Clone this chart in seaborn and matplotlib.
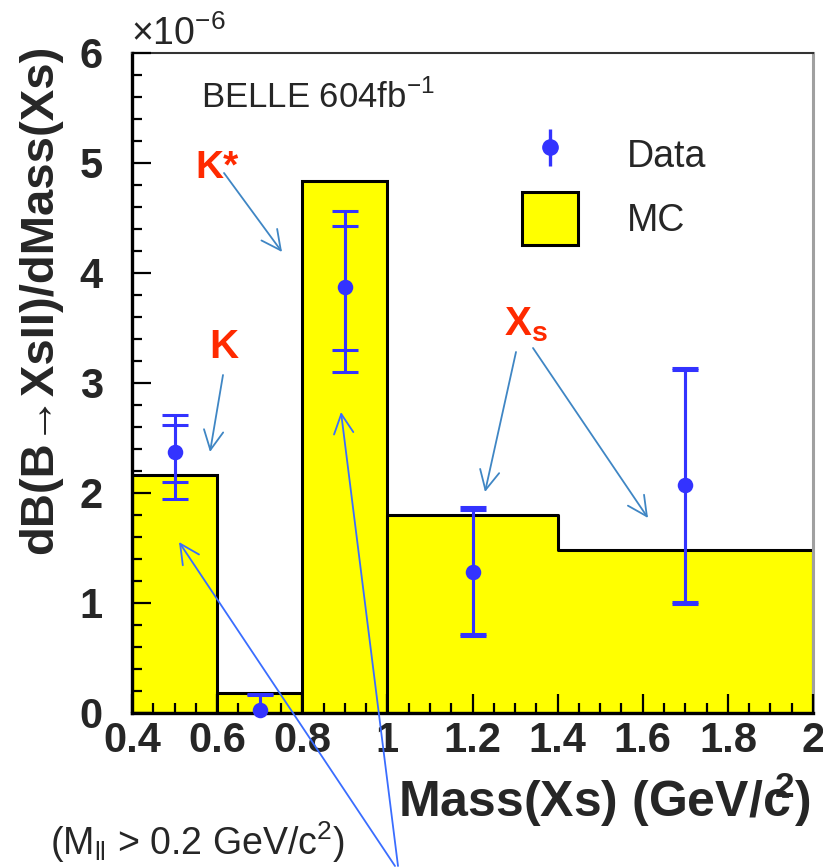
import numpy as np
import pandas as pd
import matplotlib
matplotlib.use("Agg")
import matplotlib.pyplot as plt
import seaborn as sns
from matplotlib.ticker import MultipleLocator, FixedLocator
from matplotlib.lines import Line2D
from matplotlib.collections import LineCollection
from matplotlib.container import ErrorbarContainer
from matplotlib.patches import Patch

# ---------------- data ----------------
mc_edges_low = [0.4, 0.6, 0.8, 1.0]
mc_centers_low = [0.5, 0.7, 0.9]
mc_heights_low = [2.16, 0.18, 4.84]

mc_edges_high = [1.0, 1.4, 2.0]
mc_centers_high = [1.2, 1.7]
mc_heights_high = [1.80, 1.48]

data_x = [0.5, 0.7, 0.9, 1.2, 1.7]
data_y = [2.37, 0.03, 3.87, 1.28, 2.07]
stat_lo = [2.10, -0.11, 3.30, 0.72, 1.01]
stat_hi = [2.62, 0.16, 4.43, 1.85, 3.12]
tot_lo = [1.95, -0.13, 3.10, 0.70, 0.99]
tot_hi = [2.71, 0.17, 4.56, 1.87, 3.14]

x_ticks = [0.4, 0.6, 0.8, 1.0, 1.2, 1.4, 1.6, 1.8, 2.0]
x_tick_labels = ["0.4", "0.6", "0.8", "1", "1.2", "1.4", "1.6", "1.8", "2"]
y_ticks = [0, 1, 2, 3, 4, 5, 6]
y_tick_labels = ["0", "1", "2", "3", "4", "5", "6"]

# ---------------- style ----------------
sns.set_style("white")
plt.rcParams['font.family'] = ['Liberation Sans', 'DejaVu Sans']
plt.rcParams['mathtext.fontset'] = 'custom'
plt.rcParams['mathtext.rm'] = 'Liberation Sans'
plt.rcParams['mathtext.bf'] = 'Liberation Sans:bold'

YELLOW = "#ffff00"
BLUE = "#3333ff"
RED = "#ff2a00"
ARROW1 = "#3f86c4"
ARROW2 = "#3a6dff"

W, H = 823, 867
fig = plt.figure(figsize=(W / 100, H / 100), dpi=100)


def fp(px, py):
    return (px / W, 1 - py / H)


ax = fig.add_axes([132 / W, 1 - 713 / H, (813 - 132) / W, (713 - 53) / H])

df_low = pd.DataFrame({"mass": mc_centers_low, "mc": mc_heights_low})
df_high = pd.DataFrame({"mass": mc_centers_high, "mc": mc_heights_high})

sns.histplot(data=df_low, x="mass", weights="mc", bins=mc_edges_low,
             element="bars", fill=True, color=YELLOW, edgecolor="black",
             linewidth=2.2, alpha=1, ax=ax)
sns.histplot(data=df_high, x="mass", weights="mc", bins=mc_edges_high,
             element="step", fill=True, color=YELLOW, edgecolor="black",
             linewidth=2.2, alpha=1, ax=ax)

dx = np.array(data_x)
dy = np.array(data_y)
ax.errorbar(dx, dy, yerr=[dy - np.array(tot_lo), np.array(tot_hi) - dy],
            fmt="none", ecolor=BLUE, elinewidth=2.2, capsize=9.5, capthick=2.2,
            zorder=3)
ax.errorbar(dx, dy, yerr=[dy - np.array(stat_lo), np.array(stat_hi) - dy],
            fmt="none", ecolor=BLUE, elinewidth=2.2, capsize=9.5, capthick=2.2,
            zorder=3)
sns.scatterplot(x=data_x, y=data_y, color=BLUE, s=125, edgecolor=BLUE,
                linewidth=0, zorder=4, ax=ax, clip_on=False)

ax.set_xlim(0.4, 2.0)
ax.set_ylim(0, 6)
ax.set_xlabel("")
ax.set_ylabel("")
ax.set_axisbelow(False)

ax.xaxis.set_major_locator(FixedLocator(x_ticks))
ax.set_xticklabels(x_tick_labels)
ax.yaxis.set_major_locator(FixedLocator(y_ticks))
ax.set_yticklabels(y_tick_labels)
ax.xaxis.set_minor_locator(MultipleLocator(0.05))
ax.yaxis.set_minor_locator(MultipleLocator(0.2))
ax.tick_params(which="both", direction="in", bottom=True, left=True,
               top=False, right=False, color="black", width=1.6)
ax.tick_params(which="major", length=14)
ax.tick_params(which="minor", length=7)
ax.tick_params(axis="x", which="major", labelsize=30, pad=6)
ax.tick_params(axis="y", which="major", labelsize=30, pad=21)
for lbl in ax.get_xticklabels() + ax.get_yticklabels():
    lbl.set_fontweight("bold")

for side in ["left", "bottom"]:
    ax.spines[side].set_linewidth(2.4)
    ax.spines[side].set_color("black")
ax.spines["top"].set_linewidth(1.5)
ax.spines["top"].set_color("#333333")
ax.spines["right"].set_linewidth(2.2)
ax.spines["right"].set_color("#a0a0a0")

# ---------------- legend ----------------
data_line = Line2D([], [], marker="o", ms=11, color=BLUE, ls="none")
lc = LineCollection([], colors=BLUE, linewidths=2.4)
eb_handle = ErrorbarContainer((data_line, (), (lc,)), has_xerr=False,
                              has_yerr=True, label="Data")
mc_handle = Patch(facecolor=YELLOW, edgecolor="black", linewidth=2.2, label="MC")
ax.legend(handles=[eb_handle, mc_handle], labels=["Data", "MC"],
          loc="upper left", bbox_to_anchor=fp(522, 128), bbox_transform=fig.transFigure,
          frameon=False, fontsize=27, borderpad=0, borderaxespad=0,
          handlelength=1.49, handleheight=1.8, handletextpad=1.3,
          labelspacing=0.3)

# ---------------- texts ----------------
fig.text(*fp(40, 45), "dB(B\u2192XsII)/dMass(Xs)", rotation=90, ha="center",
         va="top", fontsize=34, fontweight="bold")
fig.text(*fp(811, 817), r"Mass(Xs) (GeV/c$\!\!^{\mathregular{2}}$)",
         ha="right", va="baseline", fontsize=36, fontweight="bold")
fig.text(*fp(131, 45), r"$\times$10$^{\mathregular{-6}}$", ha="left", va="baseline",
         fontsize=27)
fig.text(*fp(201, 108), r"BELLE 604fb$^{\mathregular{-1}}$", ha="left",
         va="baseline", fontsize=25)
fig.text(*fp(50, 855), r"(M$_{\mathregular{ll}}$ > 0.2 GeV/c$^{\mathregular{2}}$)",
         ha="left", va="baseline", fontsize=27)

fig.text(*fp(195, 178), "K*", color=RED, fontsize=28, fontweight="bold",
         ha="left", va="baseline")
fig.text(*fp(209, 358), "K", color=RED, fontsize=29, fontweight="bold",
         ha="left", va="baseline")
fig.text(*fp(504, 335), r"X$_{\mathregular{s}}$", color=RED, fontsize=29,
         fontweight="bold", ha="left", va="baseline")


def arrow(tail, head, color, lw=1.3):
    ax.annotate("", xy=fp(*head), xytext=fp(*tail), xycoords="figure fraction",
                textcoords="figure fraction", annotation_clip=False,
                arrowprops=dict(arrowstyle="->,head_length=0.7,head_width=0.35",
                                color=color, lw=lw, mutation_scale=20,
                                shrinkA=0, shrinkB=0))


arrow((224, 173), (282, 252), ARROW1)
arrow((223, 375), (210, 452), ARROW1)
arrow((516, 352), (485, 492), ARROW1)
arrow((533, 348), (648, 518), ARROW1)
arrow((395, 866), (179, 542), ARROW2)
arrow((398, 866), (341, 412), ARROW2)

fig.savefig("out.png", dpi=100)
